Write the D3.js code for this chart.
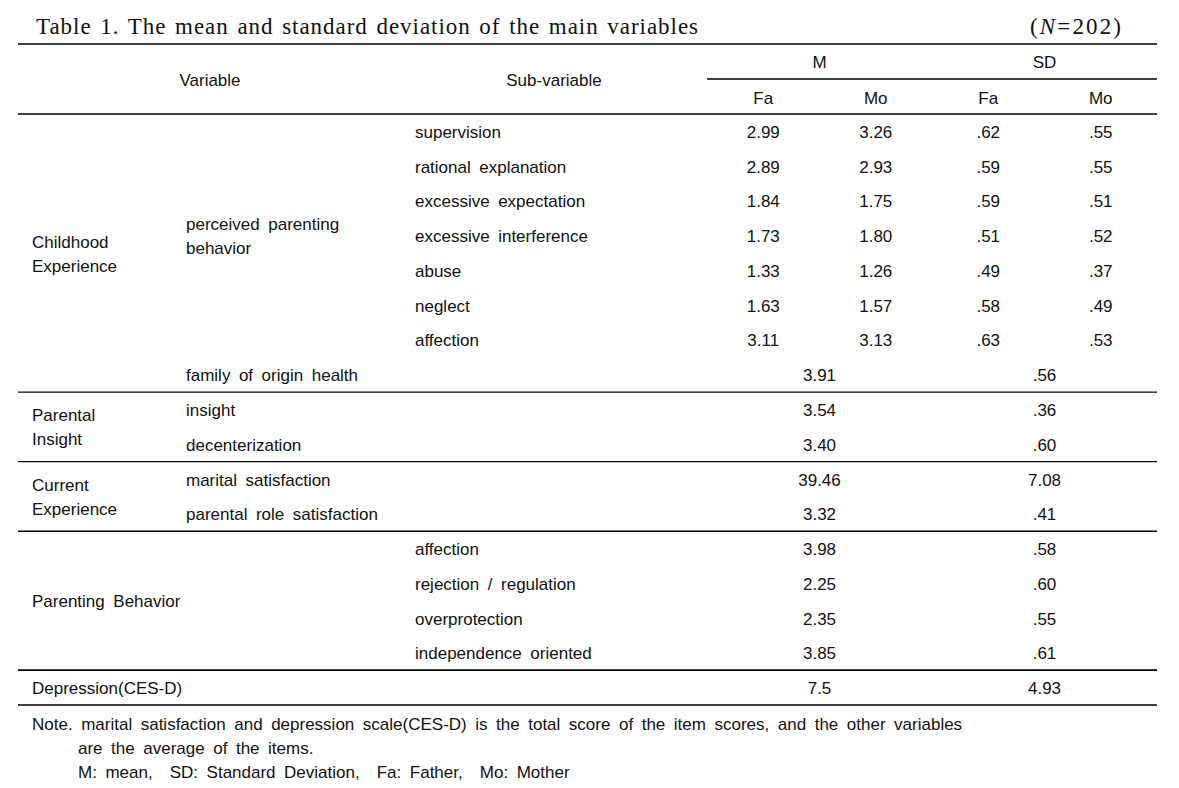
<!DOCTYPE html>
<html>
<head>
<meta charset="utf-8">
<script src="https://cdn.jsdelivr.net/npm/d3@7"></script>
<style>
body{margin:0;background:#fff}
text{font-family:"Liberation Sans",Arial,sans-serif;font-size:17px;fill:#111;word-spacing:3.8px;white-space:pre}
.title{font-family:"Liberation Serif",serif;font-size:23px;word-spacing:2px}
</style>
</head>
<body>
<script>
// table data
var title="Table 1. The mean and standard deviation of the main variables"
var sampleNote="202"
var groups=[
  {name:["Childhood","Experience"],from:0,to:7},
  {name:["Parental","Insight"],from:8,to:9},
  {name:["Current","Experience"],from:10,to:11},
  {name:["Parenting Behavior"],from:12,to:15},
  {name:["Depression(CES-D)"],from:16,to:16}
]
var ppbLabel=["perceived parenting","behavior"]
var ppbItems=["supervision","rational explanation","excessive expectation","excessive interference","abuse","neglect","affection"]
var mFa=["2.99","2.89","1.84","1.73","1.33","1.63","3.11"]
var mMo=["3.26","2.93","1.75","1.80","1.26","1.57","3.13"]
var sdFa=[".62",".59",".59",".51",".49",".58",".63"]
var sdMo=[".55",".55",".51",".52",".37",".49",".53"]
// rows with one merged value (row index, level-2 label, sub-variable label)
var mergedRows=[7,8,9,10,11,12,13,14,15,16]
var level2=["family of origin health","insight","decenterization","marital satisfaction","parental role satisfaction","","","","",""]
var subVars=["","","","","","affection","rejection / regulation","overprotection","independence oriented",""]
var mAll=["3.91","3.54","3.40","39.46","3.32","3.98","2.25","2.35","3.85","7.5"]
var sdAll=[".56",".36",".60","7.08",".41",".58",".60",".55",".61","4.93"]
var colHeads=["Fa","Mo","Fa","Mo"]
var notes=["Note. marital satisfaction and depression scale(CES-D) is the total score of the item scores, and the other variables",
  "are the average of the items.",
  "M: mean,  SD: Standard Deviation,  Fa: Father,  Mo: Mother"]

var screen={width:1179,height:788}
var svg=d3.select("body").append("svg").attr("width",screen.width).attr("height",screen.height)
var left=18,right=1157
var yScale=d3.scaleBand().domain(d3.range(17)).range([114,705])
var xScale=d3.scaleBand().domain(d3.range(4)).range([707,right])
var rowC=function(i){return yScale(i)+yScale.bandwidth()/2+6.5}

// title
svg.append("text").attr("class","title").attr("x",36).attr("y",34)
   .attr("textLength",662).attr("lengthAdjust","spacing").text(title)
var n=svg.append("text").attr("class","title").attr("x",1030).attr("y",34)
   .attr("textLength",91).attr("lengthAdjust","spacing")
n.append("tspan").text("(")
n.append("tspan").style("font-style","italic").text("N")
n.append("tspan").text("="+sampleNote+")")

// rules
var hl=function(y,x1,x2){svg.append("line").attr("x1",x1).attr("x2",x2).attr("y1",y).attr("y2",y)
   .style("stroke","#000").style("stroke-width",1.4)}
hl(44,left,right)
hl(79,707,right)
hl(114,left,right)
groups.forEach(function(g){hl(yScale(g.to)+yScale.bandwidth(),left,right)})
hl(yScale(16),left,right)

// header
svg.append("text").attr("x",210).attr("y",86).attr("text-anchor","middle").text("Variable")
svg.append("text").attr("x",554).attr("y",86).attr("text-anchor","middle").text("Sub-variable")
svg.append("text").attr("x",xScale(1)).attr("y",68).attr("text-anchor","middle").text("M")
svg.append("text").attr("x",xScale(3)).attr("y",68).attr("text-anchor","middle").text("SD")
svg.selectAll(".colhead").data(colHeads).enter().append("text")
   .attr("x",function(d,i){return xScale(i)+xScale.bandwidth()/2})
   .attr("y",104).attr("text-anchor","middle").text(function(d){return d})

// group labels
groups.forEach(function(g){
  var mid=(yScale(g.from)+yScale(g.to)+yScale.bandwidth())/2
  var lh=24
  g.name.forEach(function(s,k){
    svg.append("text").attr("x",32).attr("y",mid+6.5+(k-(g.name.length-1)/2)*lh).text(s)
  })
})
var ppbMid=(yScale(0)+yScale(6)+yScale.bandwidth())/2
ppbLabel.forEach(function(s,k){
  svg.append("text").attr("x",186).attr("y",ppbMid+6.5+(k-0.5)*24).text(s)
})

// parenting behavior items
var cols=[mFa,mMo,sdFa,sdMo]
svg.append("g").selectAll("text").data(ppbItems).enter().append("text")
   .attr("x",415).attr("y",function(d,i){return rowC(i)}).text(function(d){return d})
cols.forEach(function(col,c){
  svg.append("g").selectAll("text").data(col).enter().append("text")
     .attr("x",xScale(c)+xScale.bandwidth()/2).attr("y",function(d,i){return rowC(i)})
     .attr("text-anchor","middle").text(function(d){return d})
})

// merged rows
mergedRows.forEach(function(r,i){
  if(level2[i]) svg.append("text").attr("x",186).attr("y",rowC(r)).text(level2[i])
  if(subVars[i]) svg.append("text").attr("x",415).attr("y",rowC(r)).text(subVars[i])
  svg.append("text").attr("x",xScale(1)).attr("y",rowC(r)).attr("text-anchor","middle").text(mAll[i])
  svg.append("text").attr("x",xScale(3)).attr("y",rowC(r)).attr("text-anchor","middle").text(sdAll[i])
})

// notes
svg.selectAll(".note").data(notes).enter().append("text")
   .attr("x",function(d,i){return i==0?32:78})
   .attr("y",function(d,i){return 730+i*24}).text(function(d){return d})
</script>
</body>
</html>
